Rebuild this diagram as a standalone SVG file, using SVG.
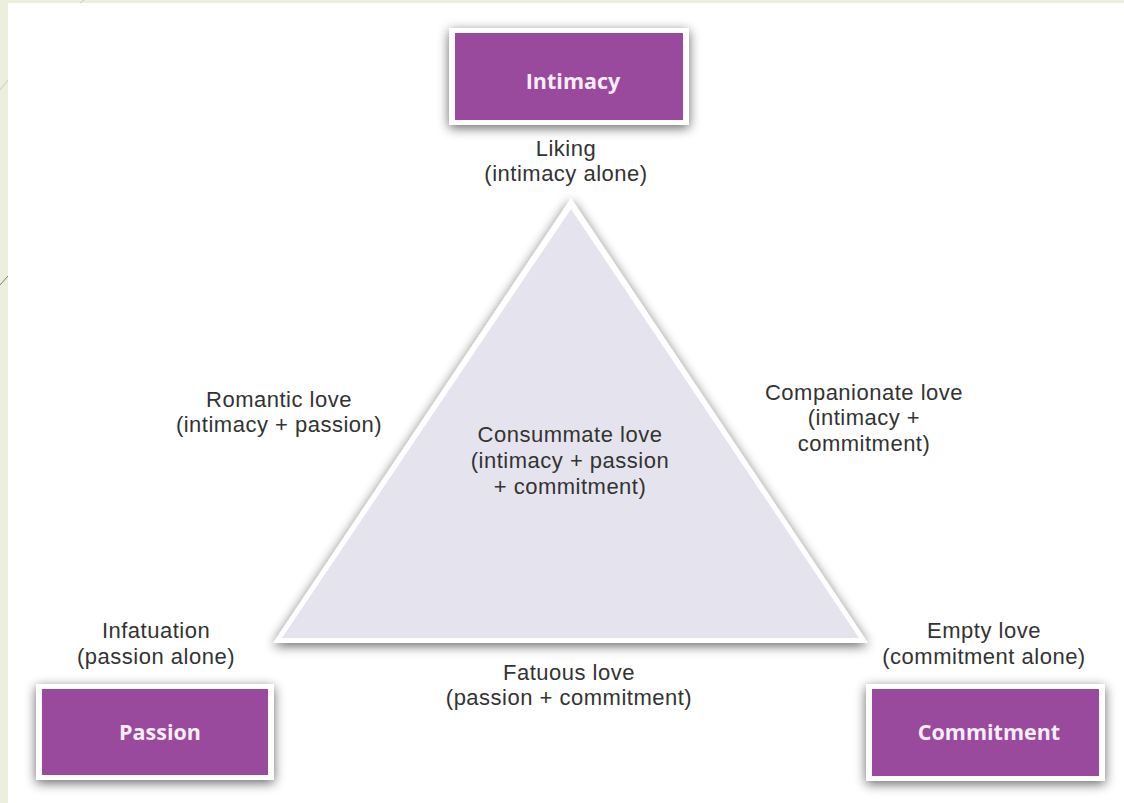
<svg xmlns="http://www.w3.org/2000/svg" width="1124" height="803" viewBox="0 0 1124 803">
<defs>
<style>
.lbl{font-family:"Liberation Sans",Arial,sans-serif;font-size:22px;letter-spacing:0.5px;fill:#333;text-anchor:middle}
.box-t{font-family:"Open Sans","Noto Sans",sans-serif;font-size:21.5px;font-weight:bold;fill:#fbeefb;text-anchor:middle}
.box-o{fill:#ffffff}
.box-i{fill:#9a4a9c}
</style>
<filter id="sh" x="-20%" y="-20%" width="140%" height="140%">
<feGaussianBlur in="SourceAlpha" stdDeviation="6"/>
<feOffset dx="0" dy="3" result="b"/>
<feComponentTransfer><feFuncA type="linear" slope="0.6"/></feComponentTransfer>
<feMerge><feMergeNode/><feMergeNode in="SourceGraphic"/></feMerge>
</filter>
</defs>
<rect width="1124" height="803" fill="#ebefdc"/>
<rect x="8" y="3" width="1116" height="800" fill="#ffffff"/>
<line x1="80" y1="3" x2="84" y2="0" stroke="#c9ccbb" stroke-width="1"/>
<line x1="0" y1="90" x2="8" y2="80" stroke="#c9ccbb" stroke-width="1"/>
<line x1="0" y1="285" x2="8" y2="276" stroke="#7d7d70" stroke-width="1"/>

<g id="triangle">
<polygon points="571,198 868,643 273,643" fill="#ffffff" filter="url(#sh)"/>
<polygon points="571,209 859,638 282,638" fill="#e5e4ee"/>
</g>

<g id="intimacy">
<rect class="box-o" x="449" y="28" width="240" height="97" filter="url(#sh)"/>
<rect class="box-i" x="455" y="33" width="228" height="87"/>
<text class="box-t" x="573" y="89">Intimacy</text>
</g>
<g id="passion">
<rect class="box-o" x="36" y="684" width="238" height="96" filter="url(#sh)"/>
<rect class="box-i" x="42" y="689" width="226" height="86"/>
<text class="box-t" x="160" y="740">Passion</text>
</g>
<g id="commitment">
<rect class="box-o" x="866" y="684" width="239" height="97" filter="url(#sh)"/>
<rect class="box-i" x="872" y="689" width="227" height="87"/>
<text class="box-t" x="989" y="740">Commitment</text>
</g>

<g id="labels">
<text class="lbl" x="566" y="156">Liking</text>
<text class="lbl" x="566" y="181">(intimacy alone)</text>
<text class="lbl" x="279" y="407">Romantic love</text>
<text class="lbl" x="279" y="432">(intimacy + passion)</text>
<text class="lbl" x="570" y="442">Consummate love</text>
<text class="lbl" x="570" y="468">(intimacy + passion</text>
<text class="lbl" x="570" y="494">+ commitment)</text>
<text class="lbl" x="864" y="400">Companionate love</text>
<text class="lbl" x="864" y="425">(intimacy +</text>
<text class="lbl" x="864" y="451">commitment)</text>
<text class="lbl" x="156" y="638">Infatuation</text>
<text class="lbl" x="156" y="664">(passion alone)</text>
<text class="lbl" x="569" y="680">Fatuous love</text>
<text class="lbl" x="569" y="705">(passion + commitment)</text>
<text class="lbl" x="984" y="638">Empty love</text>
<text class="lbl" x="984" y="664">(commitment alone)</text>
</g>
<g id="connectors"/>
</svg>
